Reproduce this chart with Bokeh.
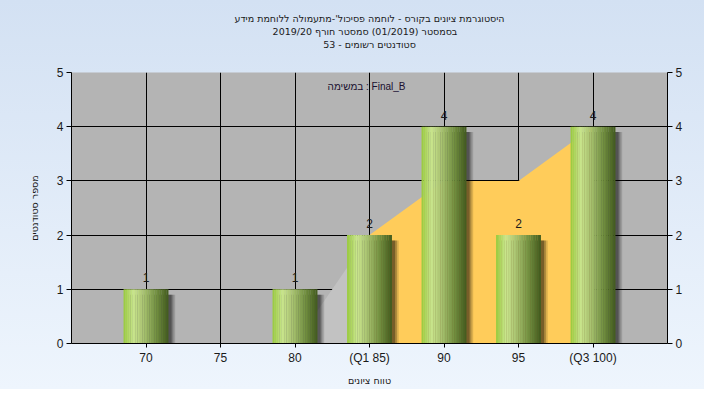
from bokeh.plotting import figure
from bokeh.models import FixedTicker, LinearAxis, Range1d, Title, Label
from bokeh.core.properties import value
from bokeh.embed import file_html
from bokeh.resources import INLINE

# ---------------- data ----------------
title_lines = [
    "היסטוגרמת ציונים בקורס - לוחמה פסיכול'-מתעמולה ללוחמת מידע",
    "בסמסטר  (01/2019)  סמסטר חורף  2019/20",
    "סטודנטים רשומים - 53",
]
task_label = "במשימה : Final_B"
x_axis_title = "טווח ציונים"
y_axis_title = "מספר סטודנטים"

grades = [70, 75, 80, 85, 90, 95, 100]
tick_labels = ["70", "75", "80", "(Q1 85)", "90", "95", "(Q3 100)"]
counts = [1, 0, 1, 2, 4, 2, 4]
y_ticks = [0, 1, 2, 3, 4, 5]

band_x = [80, 85, 90, 95, 100]
band_y = [0, 2, 3, 3, 4]
q1_grade = 85

# ---------------- style ----------------
FONT = "Liberation Sans"
HEB = "DejaVu Sans"
MIX = "Liberation Sans, DejaVu Sans"
TXT = "#1a1a1a"
BAR_W = 3.0
N_STRIPS = 26
stops = [(0.0, (152, 202, 60)), (0.22, (202, 230, 142)), (0.45, (168, 194, 112)),
         (0.72, (116, 146, 66)), (1.0, (66, 90, 30))]


def grad(t):
    for (t0, c0), (t1, c1) in zip(stops[:-1], stops[1:]):
        if t0 <= t <= t1:
            f = (t - t0) / (t1 - t0)
            return "#%02x%02x%02x" % tuple(int(round(a + (b - a) * f)) for a, b in zip(c0, c1))
    return "#%02x%02x%02x" % stops[-1][1]


p = figure(width=704, height=389, output_backend="svg", toolbar_location=None, title=None,
           x_range=Range1d(65, 105), y_range=Range1d(0, 5),
           min_border_left=71, min_border_right=37, min_border_bottom=46, min_border_top=72)
p.border_fill_color = None
p.styles = {"background": "linear-gradient(to bottom, #d3e1f3, #eef5fd)"}
p.background_fill_color = "#b4b4b4"
p.outline_line_color = None

# spacer between the title block and the plot frame (first added = closest to frame)
p.add_layout(Title(text=" ", text_font_size="1px", standoff=20), "above")
for line in reversed(title_lines):
    t = Title(text=line, align="center", text_font=HEB, text_font_size="9.5px",
              text_font_style="normal", text_color=TXT, standoff=0)
    p.add_layout(t, "above")

# area band
split = band_x.index(q1_grade)
p.varea(x=band_x[:split + 1], y1=0, y2=band_y[:split + 1], fill_color="#c2c2c2")
p.varea(x=band_x[split:], y1=0, y2=band_y[split:], fill_color="#ffcc5a")

# shadows
sg = [g for g, c in zip(grades, counts) if c > 0]
sc = [c for c in counts if c > 0]
for dx, a in [(0.22, 0.30), (0.34, 0.22), (0.46, 0.14)]:
    p.vbar(x=[g + dx for g in sg], top=[c - 0.1 for c in sc], bottom=0, width=BAR_W,
           fill_color="black", fill_alpha=a, line_color=None)

# gradient bars as thin strips
xs, tops, cols = [], [], []
for g, c in zip(sg, sc):
    for i in range(N_STRIPS):
        t = (i + 0.5) / N_STRIPS
        xs.append(g - BAR_W / 2 + t * BAR_W)
        tops.append(c)
        cols.append(grad(t))
p.vbar(x=xs, top=tops, bottom=0, width=BAR_W / N_STRIPS * 1.12, fill_color=cols, line_color=None)

# value labels
p.text(x=sg, y=sc, text=[str(c) for c in sc], text_align="center", text_baseline="bottom",
       y_offset=-7, text_font=value(FONT), text_font_size="12px", text_color=TXT)

p.add_layout(Label(x=84.8, y=4.74, text=task_label, text_align="center", text_baseline="middle",
                   text_font=MIX, text_font_size="10px", text_color="#1a1030"))

# axes
p.xaxis.ticker = FixedTicker(ticks=grades)
p.xaxis.major_label_overrides = {g: l for g, l in zip(grades, tick_labels)}
p.yaxis.ticker = FixedTicker(ticks=y_ticks)
right = LinearAxis(ticker=FixedTicker(ticks=y_ticks))
p.add_layout(right, "right")

for ax in [p.xaxis[0], p.yaxis[0], right]:
    ax.axis_line_color = "black"
    ax.axis_line_width = 1
    ax.major_tick_line_color = "black"
    ax.major_tick_in = 0
    ax.major_tick_out = 5
    ax.minor_tick_line_color = None
    ax.major_label_text_font = FONT
    ax.major_label_text_font_size = "12px"
    ax.major_label_text_color = TXT
    ax.major_label_standoff = 3
    ax.axis_label_text_font = HEB
    ax.axis_label_text_font_size = "9.5px"
    ax.axis_label_text_font_style = "normal"
    ax.axis_label_text_color = TXT

p.xaxis[0].major_tick_out = 4
p.xaxis[0].axis_label = x_axis_title
p.xaxis[0].axis_label_standoff = 7
p.yaxis[0].axis_label = y_axis_title
p.yaxis[0].axis_label_standoff = 14

p.xgrid.ticker = FixedTicker(ticks=grades)
p.ygrid.ticker = FixedTicker(ticks=y_ticks)
for g in [p.xgrid[0], p.ygrid[0]]:
    g.grid_line_color = "black"
    g.grid_line_width = 1
    g.grid_line_alpha = 1.0

open("out.html", "w").write(file_html(p, INLINE))
